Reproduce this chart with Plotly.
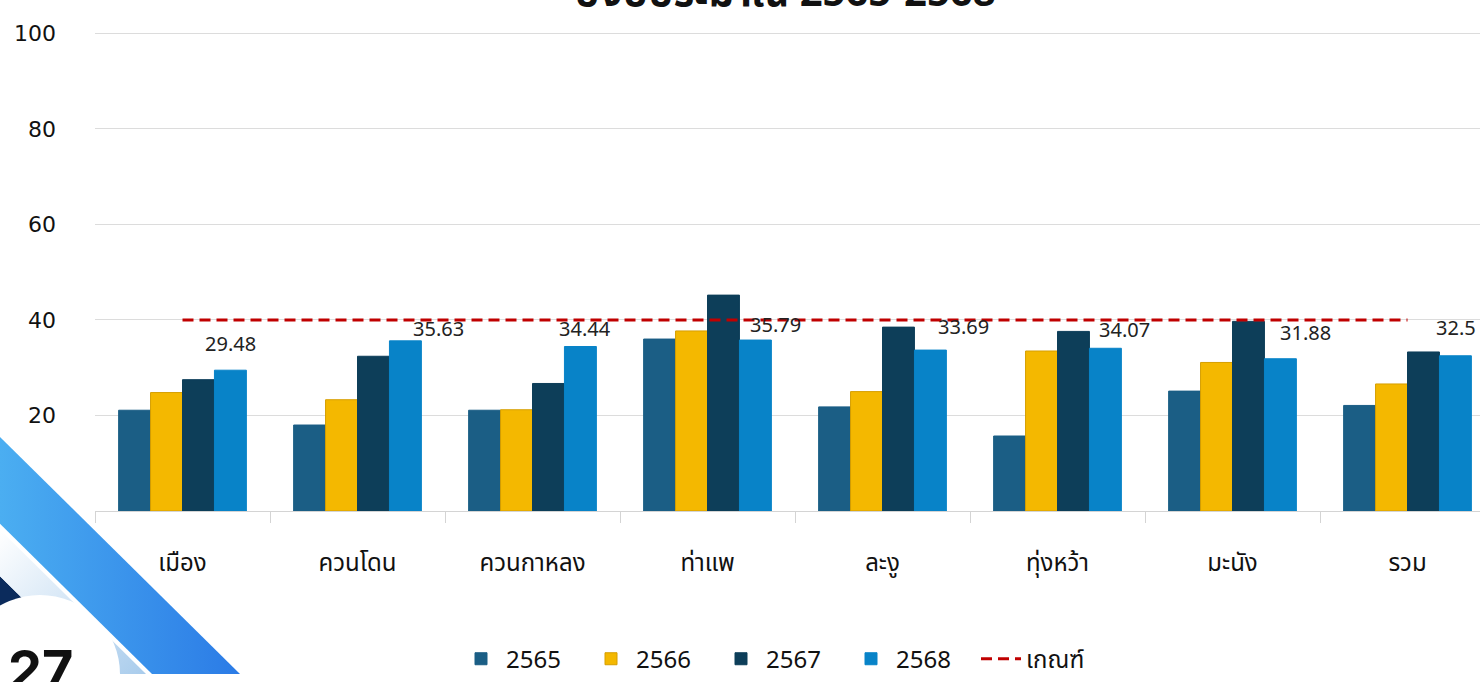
import urllib.parse
import plotly.graph_objects as go

# District categories and yearly values (%)
districts = ["เมือง", "ควนโดน", "ควนกาหลง", "ท่าแพ", "ละงู", "ทุ่งหว้า", "มะนัง", "รวม"]
years = ["2565", "2566", "2567", "2568"]
v2565 = [21.1, 18.0, 21.1, 36.0, 21.8, 15.7, 25.1, 22.1]
v2566 = [24.8, 23.3, 21.2, 37.7, 25.0, 33.5, 31.1, 26.6]
v2567 = [27.5, 32.4, 26.7, 45.2, 38.5, 37.6, 39.7, 33.3]
v2568 = [29.48, 35.63, 34.44, 35.79, 33.69, 34.07, 31.88, 32.5]
threshold = [40] * len(districts)
threshold_name = "เกณฑ์"
y_ticks = [20, 40, 60, 80, 100]
title_text = "ปีงบประมาณ 2565-2568"
page_number = "27"

series = [v2565, v2566, v2567, v2568]
colors = ["#1B5E85", "#F4B800", "#0D3E59", "#0883C8"]
edge_colors = ["#1B5E85", "#D69E00", "#0D3E59", "#0883C8"]

# label nudges (px) for the 2568 value labels
label_dx = [0, 33, 5, 20, 33, 19, 25, 1]
label_dy = [27, 12, 18, 16, 24, 19, 26, 28]

W, H = 1480, 682
ML, MR, MT, MB = 95, 0, 31, 165
PW, PH = W - ML - MR, H - MT - MB
CAT_W = 175.0
Y_TOP = 100.5


def px_x(px):
    return (px - ML) / PW


def px_y(py):
    return (H - MB - py) / PH


thai = "Tahoma, 'Noto Sans Thai', 'Leelawadee UI', 'Noto Sans', sans-serif"

fig = go.Figure()
for name, vals, c, ec in zip(years, series, colors, edge_colors):
    fig.add_trace(go.Bar(
        x=districts, y=vals, name=name,
        marker=dict(color=c, line=dict(color=ec, width=1)),
        hoverinfo="x+y+name",
    ))

fig.add_trace(go.Scatter(
    x=districts, y=threshold, name=threshold_name, mode="lines",
    line=dict(color="#C00000", width=3, dash="11px,6px"),
))

# value labels for 2568
group_w = 1 - 0.27
bar_w = group_w / 4
off4 = -group_w / 2 + 3.5 * bar_w
for i, v in enumerate(v2568):
    fig.add_annotation(
        x=i + off4, y=v, xref="x", yref="y", text=f"{v:g}", showarrow=False,
        xanchor="center", yanchor="middle", xshift=label_dx[i], yshift=label_dy[i],
        font=dict(family="'Noto Sans', Arial, sans-serif", size=20, color="#222222"),
    )

# corner decoration
svg = (
    "<svg xmlns='http://www.w3.org/2000/svg' width='260' height='252' viewBox='0 430 260 252'>"
    "<defs>"
    "<linearGradient id='b' x1='0' y1='0' x2='1' y2='0'>"
    "<stop offset='0' stop-color='#4BAEF1'/><stop offset='1' stop-color='#2B7BE6'/></linearGradient>"
    "<linearGradient id='l' x1='0' y1='0' x2='1' y2='1'>"
    "<stop offset='0' stop-color='#FFFFFF'/><stop offset='1' stop-color='#A9CCEC'/></linearGradient>"
    "</defs>"
    "<polygon points='0,583 99,682 0,682' fill='#0B2B5C'/>"
    "<polygon points='0,536 146,682 99,682 0,583' fill='url(#l)'/>"
    "<circle cx='40' cy='682' r='80' fill='#FFFFFF'/>"
    "<polygon points='0,442 240,682 152,682 0,530' fill='url(#b)'/>"
    "</svg>"
)
svg_uri = "data:image/svg+xml;charset=utf-8," + urllib.parse.quote(svg)
fig.add_layout_image(
    source=svg_uri, xref="paper", yref="paper",
    x=px_x(0), y=px_y(430), sizex=260 / PW, sizey=252 / PH,
    xanchor="left", yanchor="top", sizing="stretch", layer="above",
)

fig.add_annotation(
    xref="paper", yref="paper", x=px_x(40), y=px_y(643), text=f"<b>{page_number}</b>",
    showarrow=False, xanchor="center", yanchor="top",
    font=dict(family="Inter, 'Open Sans', sans-serif", size=54, color="#111111"),
)

fig.add_annotation(
    xref="paper", yref="paper", x=px_x(785), y=px_y(26), text=f"<b>{title_text}</b>",
    showarrow=False, xanchor="center", yanchor="bottom",
    font=dict(family=thai, size=40, color="#111111"),
)

fig.update_layout(
    width=W, height=H,
    margin=dict(l=ML, r=MR, t=MT, b=MB, pad=0),
    paper_bgcolor="white", plot_bgcolor="white",
    barmode="group", bargap=0.27, bargroupgap=0,
    showlegend=True,
    legend=dict(
        orientation="h", x=px_x(781), y=px_y(667), xanchor="center", yanchor="middle",
        font=dict(family=thai, size=24, color="#111111"),
        itemwidth=40, entrywidth=75, entrywidthmode="pixels",
        traceorder="normal", bgcolor="rgba(0,0,0,0)",
    ),
    xaxis=dict(
        range=[-0.5, -0.5 + PW / CAT_W], type="category",
        showline=True, linecolor="#D4D4D4", linewidth=1,
        ticks="outside", tickson="boundaries", ticklen=11, tickcolor="#D4D4D4",
        showgrid=False, tickfont=dict(family=thai, size=24, color="#111111"),
        ticklabelstandoff=30,
    ),
    yaxis=dict(
        range=[0, Y_TOP], tickvals=y_ticks, showline=False, zeroline=False,
        showgrid=True, gridcolor="#DCDCDC", gridwidth=1,
        tickfont=dict(family="'DejaVu Sans', Verdana, sans-serif", size=22, color="#111111"),
        ticklabelstandoff=38,
    ),
)

fig.write_html("out.html")
